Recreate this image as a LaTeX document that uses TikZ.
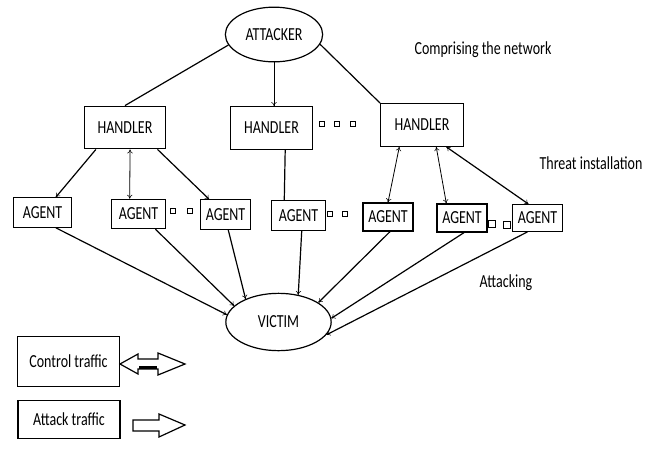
\documentclass[tikz,border=0pt]{standalone}
\usepackage{fontspec}
\setmainfont{Carlito}[FakeStretch=0.76]
\usetikzlibrary{shapes.geometric, arrows.meta}

\begin{document}
\begin{tikzpicture}[x=0.75pt,y=-0.75pt,line width=0.9pt,>={To[length=3pt,width=4pt,line width=0.4pt]},
    every node/.style={font=\fontsize{13.8}{15}\selectfont},
    box/.style={draw,rectangle,inner sep=1pt},
    handler/.style={box,minimum width=61pt,minimum height=32pt},
    agent/.style={box,minimum width=40pt,minimum height=22pt},
    host/.style={draw,ellipse,inner sep=0pt},
    dotbox/.style={draw,rectangle,line width=1pt,minimum size=3.5pt,inner sep=0pt}]
        % fix the page
        \useasboundingbox (0,0) rectangle (657,450);

        % the attacker and the victim
        \node[host,minimum width=73pt,minimum height=41pt] (attacker) at (274,34.5) {ATTACKER};
        \node[host,minimum width=79pt,minimum height=43pt] (victim) at (278.5,322) {VICTIM};

        % the handlers
        \node[handler] (h1) at (125,127.5) {HANDLER};
        \node[handler] (h2) at (271.5,128) {HANDLER};
        \node[handler,minimum width=62pt] (h3) at (422,125) {HANDLER};

        % the agents
        \node[agent,minimum width=43pt] (a1) at (42.5,212.5) {AGENT};
        \node[agent,minimum width=41pt] (a2) at (138.5,214) {AGENT};
        \node[agent,minimum width=38pt] (a3) at (225.5,214.5) {AGENT};
        \node[agent] (a4) at (298.5,215.5) {AGENT};
        \node[agent,minimum width=37.5pt,minimum height=21pt] (a5) at (388,217) {AGENT};
        \node[agent,minimum width=37.5pt,minimum height=21pt] (a6) at (462,218) {AGENT};
        \node[agent,minimum width=37pt,minimum height=20pt] (a7) at (537.5,218) {AGENT};

        % the dots between them
        \foreach \px/\py in {322/124, 337/124, 353/124, 173/211, 190/211, 330/214, 345/214}
            \node[dotbox] at (\px,\py) {};
        \node[dotbox,minimum size=5pt] at (492,224) {};
        \node[dotbox,minimum size=5pt] at (507,225) {};

        % attacker to handlers
        \draw (attacker.193) -- (h1.north);
        \draw[->,line width=0.6pt] (attacker.south) -- (attacker.south |- h2.north);
        \draw (attacker.-12) -- (h3.north west);

        % handlers to agents
        \draw[->] (h1.-143) -- (a1.49);
        \draw[<->,line width=0.6pt] (h1.-77) -- (a2.120);
        \draw[->] (h1.-34) -- (a3.137);
        \draw (h2.-58) -- (a4.133);
        \draw[<->,line width=0.6pt] (h3.-136) -- (a5.north);
        \draw[<->,line width=0.6pt] (h3.-57) -- (a6.137);
        \draw[<->] (h3.-42) -- (a7.123);

        % agents to the victim
        \draw[->] (a1.-49) -- (victim.172);
        \draw[->] (a2.-42) -- (victim.160);
        \draw[->] (a3.-80) -- (victim.145);
        \draw[->] (a4.-78) -- (victim.54);
        \draw[->] (a5.-82) -- (victim.26);
        \draw[->] (a6.-82) -- (victim.4);
        \draw[->] (a7.-126) -- (victim.-15);

        % the phases
        \node (comprising) at (483,50) {Comprising the network};
        \node (threat) at (591,163) {Threat installation};
        \node (attacking) at (506,283) {Attacking};

        % the legend
        \node[box,minimum width=77pt,minimum height=37pt] (control) at (68.5,361.5) {Control traffic};
        \node[box,minimum width=76.5pt,minimum height=29pt] (attack) at (69,419.5) {Attack traffic};
        \draw (120,364) -- (138,354) -- (138,359) -- (158,359) -- (158,353) -- (185,364)
              -- (158,375) -- (158,369) -- (138,369) -- (138,374) -- cycle;
        \draw[line width=2pt] (139,367.5) -- (157,367.5);
        \draw (133,420) -- (159,420) -- (159,414) -- (185,425) -- (159,437) -- (159,431)
              -- (133,431) -- cycle;
\end{tikzpicture}
\end{document}
